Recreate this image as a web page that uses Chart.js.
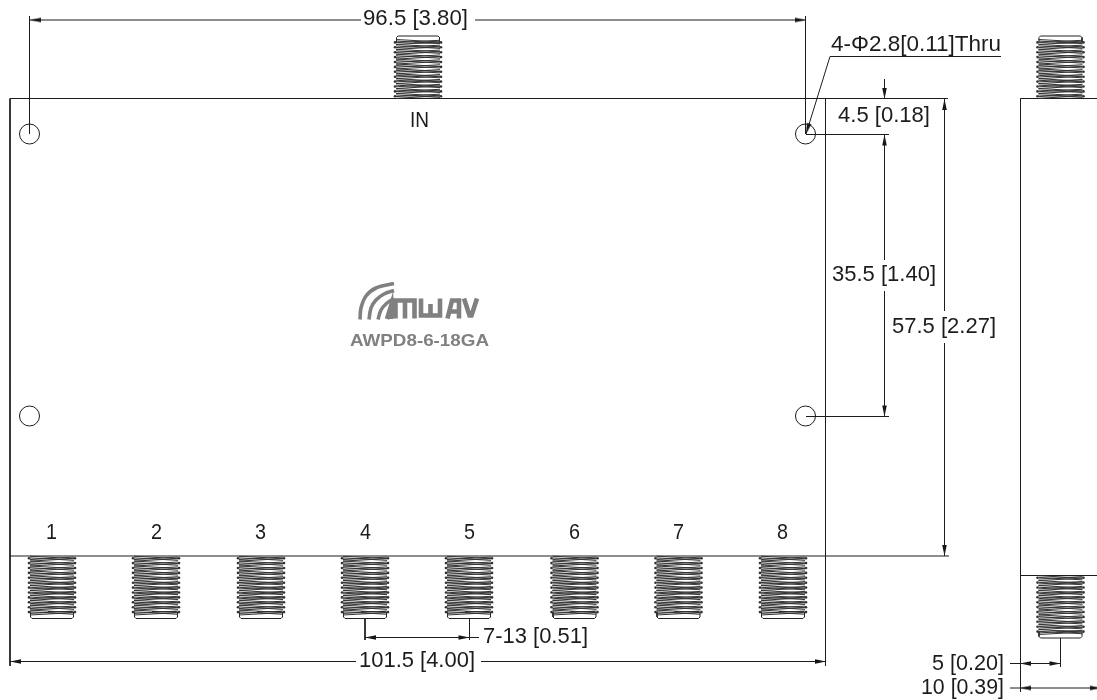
<!DOCTYPE html>
<html><head><meta charset="utf-8">
<style>html,body{margin:0;padding:0;background:#fff;overflow:hidden}#w{position:relative;width:1097px;height:700px}canvas{display:block}</style>
<script src="https://cdn.jsdelivr.net/npm/chart.js@4"></script>
</head><body><div id="w"><canvas id="c" width="1097" height="700"></canvas></div>
<script>
// Drawing values, in sheet units: [x1,y1,x2,y2]
const bodyLines = [
 [10,98.5,948,98.5],[10,98.5,10,666],[825.5,98.5,825.5,666],[10,556,949,556],
 [1020.5,98.5,1097,98.5],[1020.5,98.5,1020.5,692],[1020.5,575.5,1097,575.5]
];
const dimensionLines = [
 [29.5,16,29.5,134],[805.5,16,805.5,134],[30,20,361,20],[475,20,806,20],
 [806,134.5,889,134.5],[806,416.5,889,416.5],
 [884.5,79,884.5,99],[884.5,134,884.5,260],[884.5,291,884.5,416],
 [944.5,99,944.5,311],[944.5,343,944.5,556],
 [10,661.5,356,661.5],[481,661.5,826,661.5],
 [365,618,365,640],[469.5,618,469.5,640],[365,637.5,479,637.5],
 [1060.5,638,1060.5,667],[1010,663.5,1061,663.5],[1010,688,1097,688]
];
const leaderLine = [[830,56.5],[1001,56.5]];
const leaderStart = [[830,56.5],[806,134]];
const holeCentres = [[29.5,134],[805.5,134],[29.5,416],[805.5,416]];
// tip x, tip y, direction in degrees (0 = left, 90 = up, 180 = right, 270 = down)
const arrowTips = [
 [30,20,0],[806,20,180],[884.5,99,270],[884.5,134.5,90],[884.5,416.5,270],
 [944.5,99,90],[944.5,556,270],[10,661.5,0],[826,661.5,180],
 [365,637.5,0],[469.5,637.5,180],[1020,663.5,0],[1060.5,663.5,180],[1020,688,0],[1101,688,180],[806,134,-73]
];
const bottomPorts = [52,156,261,365,469,574.5,678.5,783];
const bottomPortsSide = [1060.5];
const topPorts = [418,1060.5];
const threadOffsets = [0,4.9,9.8,14.7,19.6,24.5,29.4,34.3,39.2,44.1,49,53.9];
const logoSwooshes = [
 [[360,319.5],[361,308],[366,296],[376,288],[394,283.5]],
 [[369,319.5],[371,308],[376,300],[384,294],[394,290.5]],
 [[378,319.5],[381,310],[387,303],[394,298.5]]
];
const logoLetters = [
 [[387,319],[391,306],[391,319]],
 [[395.5,318.5],[395.5,300.5],[414.5,300.5],[414.5,318.5]],[[405,300.5],[405,318.5]],
 [[421,298.5],[421,315.5],[440,315.5],[440,298.5]],[[430.5,315.5],[430.5,304]],
 [[447.5,318.5],[452,300.5],[459,300.5],[459,318.5]],[[449,311.5],[459,311.5]],
 [[464,298.5],[469.5,315.5],[471.5,315.5],[477,298.5]]
];
const labelTexts = ["96.5 [3.80]","4-Φ2.8[0.11]Thru","IN","4.5 [0.18]","35.5 [1.40]","57.5 [2.27]",
 "1","2","3","4","5","6","7","8","7-13 [0.51]","101.5 [4.00]","5 [0.20]","10 [0.39]"];
const labelLeft = [363,831,410,838,832,892,46,151,255,360,464,569,673,777,483,359,932,921];
const labelWidth = [105,170,19,92,104,104,11,11,11,11,11,11,11,11,105,116,72,83];
const labelBase = [25,51,127,122,281,332.5,539,539,539,539,539,539,539,539,643,667,669.5,694];
const modelLabel = "AWPD8-6-18GA";
const INK = '#1c1c1c';

function flat(segs){const out=[];segs.forEach(s=>{out.push({x:s[0],y:s[1]},{x:s[2],y:s[3]},{x:NaN,y:NaN});});return out;}
function path(paths){const out=[];paths.forEach(p=>{p.forEach(q=>out.push({x:q[0],y:q[1]}));out.push({x:NaN,y:NaN});});return out;}
function threadSegs(cx,y0,dir){
 const segs=[],L=cx-22,R=cx+22,p=4.9;
 threadOffsets.forEach(o=>{
  const y=y0+dir*(o+0.2);
  segs.push([L,y,R,y+dir*p/2]);
  segs.push([R,y+dir*p/2,L,y+dir*p]);
  segs.push([L,y+dir*1.7,R,y+dir*(1.7+p/2)]);
  segs.push([R,y+dir*(0.9),L,y+dir*(0.9+p/2)]);
 });
 return segs;
}
function tipPath(cx,y0,dir){
 const y1=y0+dir*56,y2=y0+dir*62.5,L=cx-21.5,R=cx+21.5;
 return [[[L,y1],[L,y2-dir*1.5],[L+1.5,y2],[R-1.5,y2],[R,y2-dir*1.5],[R,y1]],[[cx-4,y1-dir*0.5],[R-1,y1-dir*0.5]]];
}
function bumps(cx,y0,dir){const o=[];threadOffsets.forEach(t=>{o.push({x:cx-23,y:y0+dir*(t+2.2)},{x:cx+23,y:y0+dir*(t+2.2)});});return o;}

const threadData=[],tipData=[],bumpData=[];
function addPort(cx,y0,dir){
 threadData.push(...flat(threadSegs(cx,y0,dir)));
 tipData.push(...path(tipPath(cx,y0,dir)));
 bumpData.push(...bumps(cx,y0,dir));
}
bottomPorts.forEach(c=>addPort(c,556,1));
bottomPortsSide.forEach(c=>addPort(c,575.5,1));
topPorts.forEach(c=>addPort(c,98.5,-1));

const arrowImg=document.createElement('canvas');arrowImg.width=26;arrowImg.height=7;
(function(){const g=arrowImg.getContext('2d');g.fillStyle='#111';g.beginPath();g.moveTo(13,3.5);g.lineTo(24,1.3);g.lineTo(24,5.7);g.closePath();g.fill();})();

const line=(data,color,w,t)=>({type:'scatter',data,showLine:true,borderColor:color,borderWidth:w,pointRadius:0,pointHoverRadius:0,fill:false,tension:t||0,borderCapStyle:'butt',borderJoinStyle:'miter'});

const labelPlugin={id:'labels',afterDatasetsDraw(ch){
 const c=ch.ctx,xs=ch.scales.x,ys=ch.scales.y;
 c.save();c.textBaseline='alphabetic';c.textAlign='left';
 const put=(t,l,b,w,font,col)=>{c.font=font;c.fillStyle=col;const m=c.measureText(t).width;
  c.save();c.translate(xs.getPixelForValue(l),ys.getPixelForValue(b));c.scale(w/m,1);c.fillText(t,0,0);c.restore();};
 labelTexts.forEach((t,i)=>put(t,labelLeft[i],labelBase[i],labelWidth[i],'21.5px "Liberation Sans"',INK));
 put(modelLabel,350,346,139,'bold 16.5px "Liberation Sans"','#808080');
 c.restore();
}};

new Chart(document.getElementById('c'),{
 type:'scatter',
 data:{datasets:[
  line(threadData,'#333',1),
  {type:'scatter',data:bumpData,showLine:false,pointStyle:'circle',pointRadius:1.3,backgroundColor:'#333',borderWidth:0},
  line(tipData,'#222',1),
  line(flat(bodyLines),INK,1),
  line(flat(dimensionLines),INK,1),
  line(path([leaderLine,leaderStart]),INK,1),
  {type:'scatter',data:holeCentres.map(h=>({x:h[0],y:h[1]})),showLine:false,pointStyle:'circle',pointRadius:10,backgroundColor:'rgba(0,0,0,0)',borderColor:INK,borderWidth:1},
  {type:'scatter',data:arrowTips.map(a=>({x:a[0],y:a[1]})),showLine:false,pointStyle:arrowImg,rotation:arrowTips.map(a=>a[2])},
  line(path(logoSwooshes),'#808080',3.6,0.35),
  line(path(logoLetters),'#808080',4.6)
 ]},
 options:{
  responsive:false,animation:false,devicePixelRatio:1,
  layout:{padding:0,autoPadding:false},
  plugins:{legend:{display:false},tooltip:{enabled:false},title:{display:false}},
  events:[],
  scales:{
   x:{type:'linear',min:0,max:1097,display:false},
   y:{type:'linear',min:0,max:700,reverse:true,display:false}
  }
 },
 plugins:[labelPlugin]
});
</script></body></html>
